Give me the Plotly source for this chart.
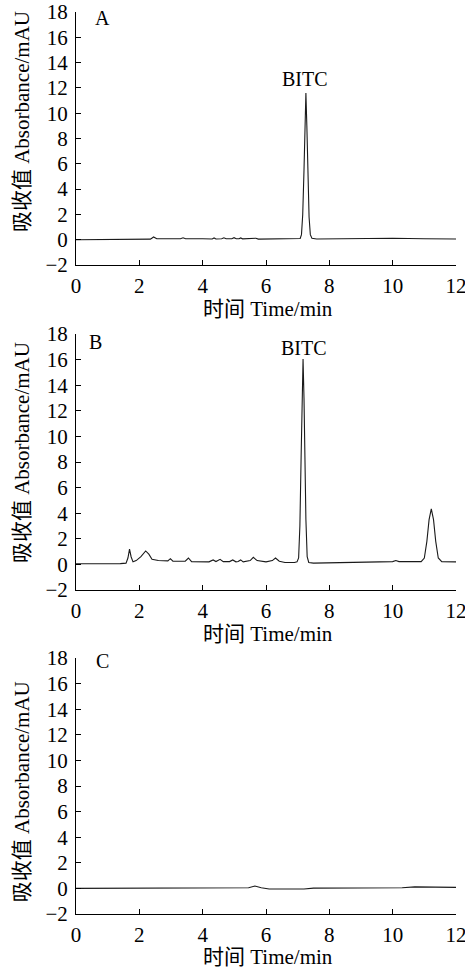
import plotly.graph_objects as go

# ---------------- data ----------------
time_a = [0, 0.5, 1.0, 1.5, 2.0, 2.35, 2.45, 2.55, 3.0, 3.3, 3.38, 3.46,
          4.0, 4.3, 4.36, 4.42, 4.6, 4.67, 4.74, 4.92, 4.99, 5.06, 5.15, 5.2,
          5.26, 5.6, 5.68, 5.76, 6.5, 7.0, 7.08, 7.12, 7.16, 7.20, 7.23, 7.26,
          7.29, 7.32, 7.36, 7.40, 7.45, 7.6, 8.0, 9.0, 10.0, 11.0, 12.0]
abs_a = [0.0, 0.0, 0.02, 0.02, 0.05, 0.05, 0.22, 0.07, 0.08, 0.08, 0.15, 0.08,
         0.08, 0.06, 0.14, 0.06, 0.08, 0.15, 0.07, 0.08, 0.16, 0.07, 0.07, 0.14,
         0.07, 0.07, 0.12, 0.05, 0.05, 0.05, 0.1, 0.4, 2.0, 5.5, 9.0, 11.6,
         9.0, 5.0, 1.8, 0.4, 0.12, 0.06, 0.08, 0.1, 0.12, 0.08, 0.06]

time_b = [0, 0.5, 1.0, 1.4, 1.58, 1.64, 1.69, 1.74, 1.80, 1.9, 2.05, 2.2,
          2.3, 2.4, 2.6, 2.9, 2.98, 3.06, 3.45, 3.55, 3.65, 4.2, 4.33, 4.42,
          4.55, 4.65, 4.85, 4.95, 5.05, 5.12, 5.2, 5.28, 5.5, 5.6, 5.72, 6.0,
          6.2, 6.3, 6.42, 6.6, 6.9, 6.98, 7.03, 7.07, 7.11, 7.14, 7.17, 7.20,
          7.23, 7.26, 7.30, 7.35, 7.5, 8.5, 9.5, 10.0, 10.1, 10.2, 10.9, 11.0,
          11.08, 11.15, 11.22, 11.29, 11.36, 11.44, 11.55, 12.0]
abs_b = [0.05, 0.05, 0.03, 0.06, 0.1, 0.5, 1.2, 0.6, 0.2, 0.3, 0.6, 1.05,
         0.8, 0.4, 0.3, 0.28, 0.45, 0.25, 0.25, 0.5, 0.22, 0.2, 0.35, 0.22,
         0.4, 0.22, 0.22, 0.35, 0.2, 0.22, 0.35, 0.2, 0.3, 0.55, 0.3, 0.2,
         0.3, 0.5, 0.25, 0.15, 0.15, 0.2, 0.5, 3.0, 8.5, 13.5, 16.05, 13.0,
         8.0, 3.5, 0.6, 0.15, 0.1, 0.15, 0.2, 0.22, 0.3, 0.22, 0.22, 0.5,
         1.8, 3.5, 4.33, 3.5, 1.8, 0.5, 0.22, 0.2]

time_c = [0, 1.0, 2.0, 3.0, 4.0, 5.0, 5.45, 5.65, 5.85, 6.1, 7.2, 7.5,
          9.0, 10.3, 10.7, 11.2, 12.0]
abs_c = [0.0, 0.0, 0.05, 0.05, 0.03, 0.05, 0.05, 0.18, 0.05, -0.05, -0.05, 0.02,
         0.05, 0.05, 0.12, 0.1, 0.08]

x_ticks = [0, 2, 4, 6, 8, 10, 12]
y_ticks = [-2, 0, 2, 4, 6, 8, 10, 12, 14, 16, 18]
panel_labels = ["A", "B", "C"]
peak_label = "BITC"
x_title = "时间 Time/min"
y_title = "吸收值 Absorbance/mAU"

# ---------------- figure ----------------
FONT = "Liberation Serif, Times New Roman, Noto Sans CJK SC, serif"
LINE = "#1a1a1a"

fig = go.Figure()
series = [(time_a, abs_a), (time_b, abs_b), (time_c, abs_c)]
for i, (tx, ty) in enumerate(series):
    sfx = "" if i == 0 else str(i + 1)
    fig.add_trace(go.Scatter(x=tx, y=ty, mode="lines",
                             line=dict(color=LINE, width=1.1),
                             xaxis="x" + sfx, yaxis="y" + sfx,
                             showlegend=False, hoverinfo="skip"))

domains = [[0.7195, 1.0], [0.3592, 0.643], [0.0, 0.2838]]
axis_common = dict(showline=True, linecolor="black", linewidth=1,
                   ticks="inside", ticklen=5, tickwidth=1, tickcolor="black",
                   showgrid=False, zeroline=False, automargin=False,
                   ticklabeloverflow="allow",
                   tickfont=dict(family=FONT, size=21, color="black"))
layout = dict(
    width=465, height=969,
    margin=dict(l=76, r=9, t=12, b=55, autoexpand=False),
    paper_bgcolor="white", plot_bgcolor="white",
    font=dict(family=FONT, size=21, color="black"),
    showlegend=False,
)
for i in range(3):
    sfx = "" if i == 0 else str(i + 1)
    layout["xaxis" + sfx] = dict(axis_common, range=[0, 12], tickvals=x_ticks,
                                 anchor="y" + sfx, ticklabelstandoff=2)
    layout["yaxis" + sfx] = dict(axis_common, range=[-2, 18], tickvals=y_ticks,
                                 domain=domains[i], anchor="x" + sfx,
                                 ticklabelstandoff=3)
fig.update_layout(**layout)

annotations = []
# y titles
for yc in [0.878, 0.511, 0.135]:
    annotations.append(dict(text=y_title, xref="paper", yref="paper",
                            x=-0.142, y=yc, xanchor="center", yanchor="middle",
                            textangle=-90, showarrow=False,
                            font=dict(family=FONT, size=21, color="black")))
# x titles
for yc in [0.6707, 0.3104, -0.0477]:
    annotations.append(dict(text=x_title, xref="paper", yref="paper",
                            x=0.505, y=yc, xanchor="center", yanchor="middle",
                            showarrow=False,
                            font=dict(family=FONT, size=21, color="black")))
# panel labels
label_pos = [(0.54, 17.5), (0.35, 17.4), (0.56, 17.75)]
for i, (lab, (lx, ly)) in enumerate(zip(panel_labels, label_pos)):
    sfx = "" if i == 0 else str(i + 1)
    annotations.append(dict(text=lab, xref="x" + sfx, yref="y" + sfx,
                            x=lx, y=ly, xanchor="left", yanchor="middle",
                            showarrow=False,
                            font=dict(family=FONT, size=20, color="black")))
# peak labels
for sfx, (px, py) in [("", (7.23, 12.7)), ("2", (7.2, 16.9))]:
    annotations.append(dict(text=peak_label, xref="x" + sfx, yref="y" + sfx,
                            x=px, y=py, xanchor="center", yanchor="middle",
                            showarrow=False,
                            font=dict(family=FONT, size=20, color="black")))
fig.update_layout(annotations=annotations)

fig.write_html("out.html",
               config={"displayModeBar": False, "staticPlot": True},
               post_script="document.body.style.margin='0';"
                           "document.body.style.overflow='hidden';")
